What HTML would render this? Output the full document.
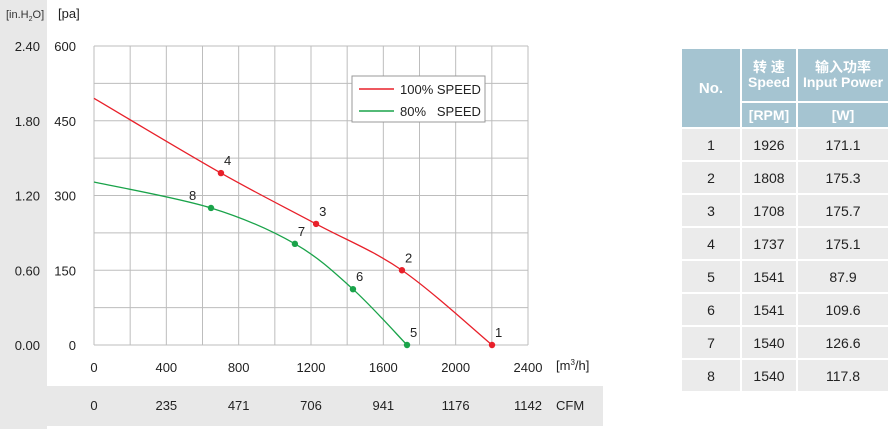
<!DOCTYPE html>
<html><head><meta charset="utf-8"><style>
body{margin:0;width:893px;height:429px;background:#fff;font-family:"Liberation Sans","Noto Sans CJK SC",sans-serif;overflow:hidden;position:relative}
svg{position:absolute;left:0;top:0}
table{position:absolute;left:680px;top:47px;border-collapse:collapse;font-size:14px;color:#222}
td{border:2px solid #fff;text-align:center;padding:0;background:#ebebeb}
th{border:2px solid #fff;background:#a5c4d1;color:#fff;font-weight:bold;padding:0;line-height:15px}
</style></head><body>
<svg width="893" height="429">
<rect x="0" y="0" width="47" height="429" fill="#e8e8e8"/>
<rect x="47" y="386" width="556" height="40" fill="#e8e8e8"/>
<g id="grid"></g><g id="axes" font-size="13" fill="#222"></g><g id="series"></g>
<text x="6" y="18" font-size="11" fill="#333">[in.H<tspan font-size="7" dy="3">2</tspan><tspan dy="-3">O]</tspan></text>
<text x="58" y="18" font-size="13" fill="#222">[pa]</text>
<text x="556" y="370" font-size="13" fill="#222">[m<tspan font-size="8" dy="-5">3</tspan><tspan dy="5">/h]</tspan></text>
<text x="556" y="410" font-size="13" fill="#222">CFM</text>
<g>
<rect x="352" y="76" width="133" height="46" fill="#fff" stroke="#999"/>
<line x1="359" y1="89" x2="394" y2="89" stroke="#e8202a" stroke-width="1.5"/>
<text x="400" y="94" font-size="13" fill="#222">100% SPEED</text>
<line x1="359" y1="111" x2="394" y2="111" stroke="#1aa34a" stroke-width="1.5"/>
<text x="400" y="116" font-size="13" fill="#222" xml:space="preserve">80%   SPEED</text>
</g>
</svg>
<table>
<tr style="height:54px"><th rowspan="2" style="width:58px;font-size:15px">No.</th><th style="width:54px">转 速<br>Speed</th><th style="width:90px">输入功率<br>Input Power</th></tr>
<tr style="height:26px"><th>[RPM]</th><th>[W]</th></tr>
<tbody id="tb"></tbody>
</table>
<script>
const xTicks=[0,400,800,1200,1600,2000,2400];
const cfmTicks=["0","235","471","706","941","1176","1142"];
const paTicks=[0,150,300,450,600];
const inTicks=["0.00","0.60","1.20","1.80","2.40"];
const red100Flow=[0,702,1228,1703,2201];
const red100Pa=[495,345,243,150,0];
const red100Labels=["","4","3","2","1"];
const green80Flow=[0,647,1111,1432,1731];
const green80Pa=[327,275,203,112,0];
const green80Labels=["","8","7","6","5"];
const rowNo=[1,2,3,4,5,6,7,8];
const rowRpm=[1926,1808,1708,1737,1541,1541,1540,1540];
const rowW=["171.1","175.3","175.7","175.1","87.9","109.6","126.6","117.8"];
const X0=94,X1=528,Y0=345,Y1=46;
const sx=v=>X0+v/2400*(X1-X0), sy=v=>Y0-v/600*(Y0-Y1);
const NS="http://www.w3.org/2000/svg";
function mk(t,a,p){const e=document.createElementNS(NS,t);for(const k in a)e.setAttribute(k,a[k]);p.appendChild(e);return e;}
const g=document.getElementById('grid');
for(let v=0;v<=2400;v+=200){const l=mk('line',{x1:sx(v),x2:sx(v),y1:Y1,y2:Y0,stroke:'#bdbdbd'},g);

}
for(let v=0;v<=600;v+=75){const l=mk('line',{x1:X0,x2:X1,y1:sy(v),y2:sy(v),stroke:'#bdbdbd'},g);

}
const ax=document.getElementById('axes');
xTicks.forEach((v,i)=>{const t=mk('text',{x:sx(v),y:372,'text-anchor':'middle'},ax);t.textContent=v;


const c=mk('text',{x:sx(v),y:410,'text-anchor':'middle'},ax);c.textContent=cfmTicks[i];

});
paTicks.forEach((v,i)=>{const t=mk('text',{x:76,y:sy(v)+5,'text-anchor':'end'},ax);t.textContent=v;


const c=mk('text',{x:40,y:sy(v)+5,'text-anchor':'end'},ax);c.textContent=inTicks[i];

});
const sg=document.getElementById('series');
function curve(fl,pa,lb,col,name){const P=fl.map((f,i)=>[sx(f),sy(pa[i])]);
let d='M'+P[0];for(let i=0;i<P.length-1;i++){const p0=P[i-1]||P[i],p1=P[i],p2=P[i+1],p3=P[i+2]||p2;
d+=' C'+(p1[0]+(p2[0]-p0[0])/6)+','+(p1[1]+(p2[1]-p0[1])/6)+' '+(p2[0]-(p3[0]-p1[0])/6)+','+(p2[1]-(p3[1]-p1[1])/6)+' '+p2[0]+','+p2[1];}
const p=mk('path',{d:d,fill:'none',stroke:col,'stroke-width':1.3},sg);


P.forEach((q,i)=>{if(!lb[i])return;const c=mk('circle',{cx:q[0],cy:q[1],r:3.2,fill:col},sg);


const left=(lb[i]==='8');
const t=mk('text',{x:left?q[0]-22:q[0]+3,y:q[1]-8,'font-size':13,fill:'#222'},sg);t.textContent=lb[i];

});}
curve(red100Flow,red100Pa,red100Labels,'#e8202a','speed-100');
curve(green80Flow,green80Pa,green80Labels,'#1aa34a','speed-80');
const tb=document.getElementById('tb');
rowNo.forEach((n,i)=>{const tr=document.createElement('tr');tr.style.height='33px';


[n,rowRpm[i],rowW[i]].forEach(v=>{const td=document.createElement('td');td.textContent=v;tr.appendChild(td);});tb.appendChild(tr);});
</script>
</body></html>
